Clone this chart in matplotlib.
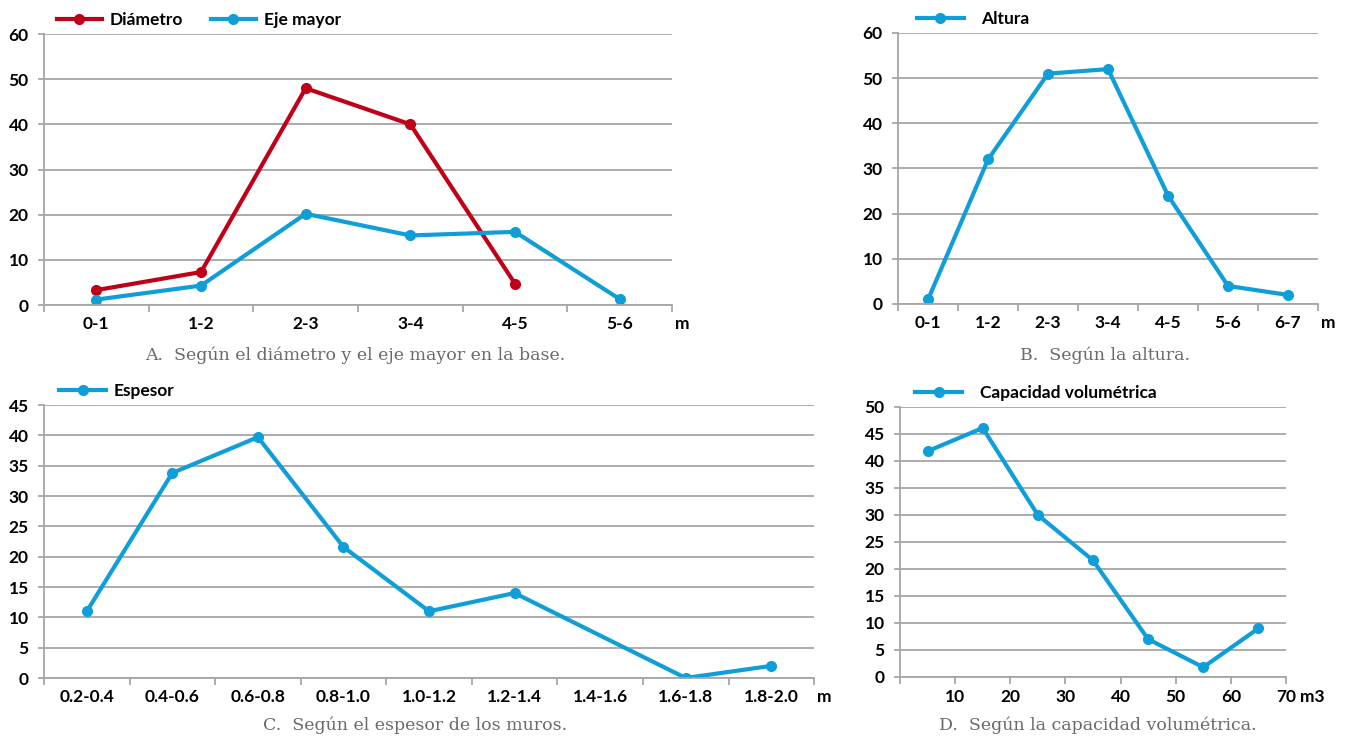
import numpy as np
import matplotlib
matplotlib.use("Agg")
import matplotlib.pyplot as plt
from matplotlib.ticker import FixedLocator, MultipleLocator

# data
cats_a = ["0-1", "1-2", "2-3", "3-4", "4-5", "5-6"]
diametro = [3.3, 7.3, 48, 40, 4.7]
eje_mayor = [1.2, 4.3, 20.2, 15.4, 16.2, 1.3]

cats_b = ["0-1", "1-2", "2-3", "3-4", "4-5", "5-6", "6-7"]
altura = [1, 32, 51, 52, 24, 4, 2]

cats_c = ["0.2-0.4", "0.4-0.6", "0.6-0.8", "0.8-1.0", "1.0-1.2",
          "1.2-1.4", "1.4-1.6", "1.6-1.8", "1.8-2.0"]
espesor = [11, 33.8, 39.7, 21.6, 11, 14, None, 0, 2]

vol_x = [5, 15, 25, 35, 45, 55, 65]
capacidad = [41.8, 46.1, 30, 21.6, 7, 1.8, 9]

RED = "#C00018"
BLUE = "#0F9ED8"
GRID = "#A6A6A6"

plt.rcParams["font.family"] = ["Lato", "DejaVu Sans"]
plt.rcParams["font.weight"] = "bold"

fig = plt.figure(figsize=(13.46, 7.38), dpi=100)

line_kw = dict(lw=3, marker="o", ms=7, solid_joinstyle="round")


def style(ax, ymax, ystep, size):
    ax.set_ylim(0, ymax)
    ax.yaxis.set_major_locator(MultipleLocator(ystep))
    ax.grid(axis="y", color=GRID, lw=1.3)
    ax.set_axisbelow(True)
    for s in ("top", "right"):
        ax.spines[s].set_visible(False)
    for s in ("left", "bottom"):
        ax.spines[s].set_color(GRID)
        ax.spines[s].set_linewidth(1.3)
    ax.tick_params(axis="y", length=4, width=1.3, color=GRID, pad=7,
                   labelsize=size)
    ax.tick_params(axis="x", which="both", labelsize=size)


def cat_axis(ax, cats, size, unit="m"):
    n = len(cats)
    ax.set_xlim(-0.5, n - 0.5)
    ax.set_xticks(range(n))
    ax.set_xticklabels(cats)
    ax.xaxis.set_minor_locator(FixedLocator(np.arange(-0.5, n, 1.0)))
    ax.tick_params(axis="x", which="major", length=0, pad=8)
    ax.tick_params(axis="x", which="minor", length=5, width=1.3, color=GRID)
    ax.annotate(unit, xy=(1, 0), xycoords="axes fraction", xytext=(2, -8),
                textcoords="offset points", ha="left", va="top",
                fontsize=size, fontweight="bold")


def legend(ax, size, ncol=1, hl=2.6, gap=0.9, y=1.05, x=0.02):
    ax.legend(loc="center left", bbox_to_anchor=(x, y), ncol=ncol,
              frameon=False, handlelength=hl, handletextpad=gap,
              columnspacing=1.6, borderpad=0, borderaxespad=0,
              prop={"weight": "bold", "size": size})


# A
ax_a = fig.add_axes([0.0327, 0.5867, 0.4666, 0.3672])
ax_a.plot(range(len(diametro)), diametro, color=RED, label="Diámetro", **line_kw)
ax_a.plot(range(len(eje_mayor)), eje_mayor, color=BLUE, label="Eje mayor", **line_kw)
cat_axis(ax_a, cats_a, 12.5)
style(ax_a, 60, 10, 12.5)
legend(ax_a, 12.5, ncol=2, hl=2.6, gap=0.45)

# B
ax_b = fig.add_axes([0.6672, 0.5881, 0.3120, 0.3672])
ax_b.plot(range(len(altura)), altura, color=BLUE, label="Altura", **line_kw)
cat_axis(ax_b, cats_b, 12.5)
style(ax_b, 60, 10, 12.5)
legend(ax_b, 12.5, hl=2.7, gap=1.0, y=1.05, x=0.045)

# C
ax_c = fig.add_axes([0.0327, 0.0813, 0.5721, 0.3699])
cx = [i for i, v in enumerate(espesor) if v is not None]
cy = [v for v in espesor if v is not None]
ax_c.plot(cx, cy, color=BLUE, label="Espesor", **line_kw)
cat_axis(ax_c, cats_c, 12.5)
style(ax_c, 45, 5, 12.5)
legend(ax_c, 12.5, hl=2.7, gap=0.45, y=1.05)

# D
ax_d = fig.add_axes([0.6686, 0.0827, 0.2868, 0.3659])
ax_d.plot(vol_x, capacidad, color=BLUE, label="Capacidad volumétrica", **line_kw)
ax_d.set_xlim(0, 70)
ax_d.set_xticks(range(0, 71, 10))
ax_d.set_xticklabels([""] + [str(v) for v in range(10, 71, 10)])
ax_d.tick_params(axis="x", length=5, width=1.3, color=GRID, pad=4)
style(ax_d, 50, 5, 12.5)
ax_d.annotate("m3", xy=(1, 0), xycoords="axes fraction", xytext=(10, -9),
              textcoords="offset points", ha="left", va="top",
              fontsize=12.5, fontweight="bold")
legend(ax_d, 12.5, hl=2.7, gap=1.0, y=1.05, x=0.04)

cap_kw = dict(ha="center", va="center", fontsize=12.5, color="#6A6A6A",
              family="DejaVu Serif", weight="normal")
fig.text(355 / 1346, 1 - 355 / 738, "A.  Según el diámetro y el eje mayor en la base.", **cap_kw)
fig.text(1105 / 1346, 1 - 355 / 738, "B.  Según la altura.", **cap_kw)
fig.text(415 / 1346, 1 - 725 / 738, "C.  Según el espesor de los muros.", **cap_kw)
fig.text(1098 / 1346, 1 - 725 / 738, "D.  Según la capacidad volumétrica.", **cap_kw)

fig.savefig("out.png", dpi=100)
